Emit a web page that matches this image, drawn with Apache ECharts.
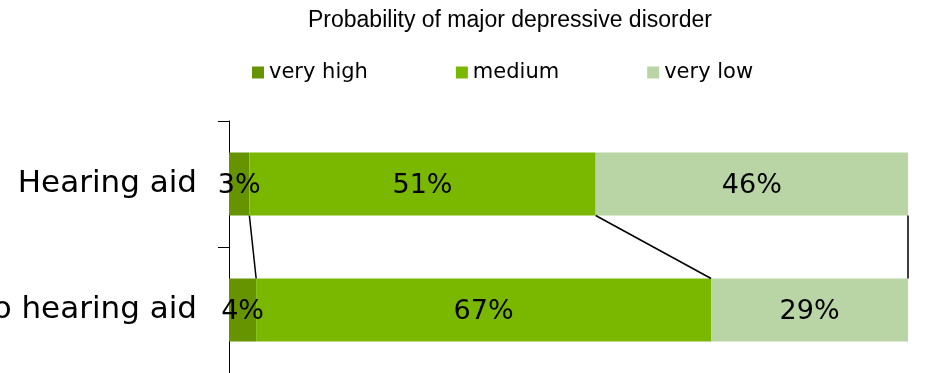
<!DOCTYPE html>
<html>
<head>
<meta charset="utf-8">
<script src="https://cdn.jsdelivr.net/npm/echarts@6/dist/echarts.min.js"></script>
<style>
  html, body { margin: 0; padding: 0; background: #fff; }
  #chart { width: 926px; height: 373px; }
</style>
</head>
<body>
<div id="chart"></div>
<script>
// Share of people (%) by probability of major depressive disorder
const categories = ['Hearing aid', 'No hearing aid'];
const seriesNames = ['very high', 'medium', 'very low'];
const veryHigh = [3, 4];
const medium = [51, 67];
const veryLow = [46, 29];
const xTicks = [0, 100];

const colors = ['#669400', '#7AB800', '#B9D5A6'];
const valueSets = [veryHigh, medium, veryLow];

// Cumulative right edges of each segment, used for the connector lines
const connectors = [];
let cumTop = 0, cumBottom = 0;
valueSets.forEach(function (vals) {
  cumTop += vals[0];
  cumBottom += vals[1];
  connectors.push([cumTop, cumBottom, 0]);
});

const barSeries = valueSets.map(function (vals, i) {
  return {
    name: seriesNames[i],
    type: 'bar',
    stack: 'total',
    barWidth: '50%',
    data: vals,
    itemStyle: { color: colors[i] },
    label: {
      show: true,
      position: 'inside',
      offset: [0, 2],
      formatter: '{c}%',
      color: '#000',
      fontFamily: 'DejaVu Sans',
      fontSize: 27
    },
    emphasis: { disabled: true },
    z: 2
  };
});

const lineSeries = {
  type: 'custom',
  silent: true,
  encode: { x: [0, 1], y: 2 },
  data: connectors,
  z: 3,
  renderItem: function (params, api) {
    const top = api.coord([api.value(0), 0]);
    const bottom = api.coord([api.value(1), 1]);
    const half = api.size([0, 1])[1] * 0.25;
    return {
      type: 'line',
      shape: {
        x1: top[0], y1: top[1] + half,
        x2: bottom[0], y2: bottom[1] - half
      },
      style: { stroke: '#000', lineWidth: 1.5 }
    };
  }
};

const chart = echarts.init(document.getElementById('chart'), null, { renderer: 'canvas' });
chart.setOption({
  animation: false,
  backgroundColor: '#fff',
  title: {
    text: 'Probability of major depressive disorder',
    left: 303,
    top: 4,
    textStyle: {
      fontFamily: 'Liberation Sans',
      fontSize: 23,
      fontWeight: 'normal',
      color: '#000'
    }
  },
  legend: {
    data: seriesNames,
    left: 252,
    top: 62,
    padding: 0,
    icon: 'rect',
    itemWidth: 12,
    itemHeight: 12,
    itemGap: 88,
    textStyle: {
      fontFamily: 'DejaVu Sans',
      fontSize: 21,
      color: '#000'
    },
    selectedMode: false
  },
  grid: { left: 229, right: 18, top: 121, bottom: 0, outerBoundsMode: 'none', containLabel: false },
  xAxis: {
    type: 'value',
    min: xTicks[0],
    max: xTicks[1],
    show: false
  },
  yAxis: {
    type: 'category',
    data: categories,
    inverse: true,
    axisLine: { show: true, lineStyle: { color: '#000', width: 1 } },
    axisTick: { show: true, length: 11, lineStyle: { color: '#000' } },
    axisLabel: {
      margin: 32,
      color: '#000',
      fontFamily: 'DejaVu Sans',
      fontSize: 31
    },
    splitLine: { show: false }
  },
  series: barSeries.concat([lineSeries])
});
</script>
</body>
</html>
